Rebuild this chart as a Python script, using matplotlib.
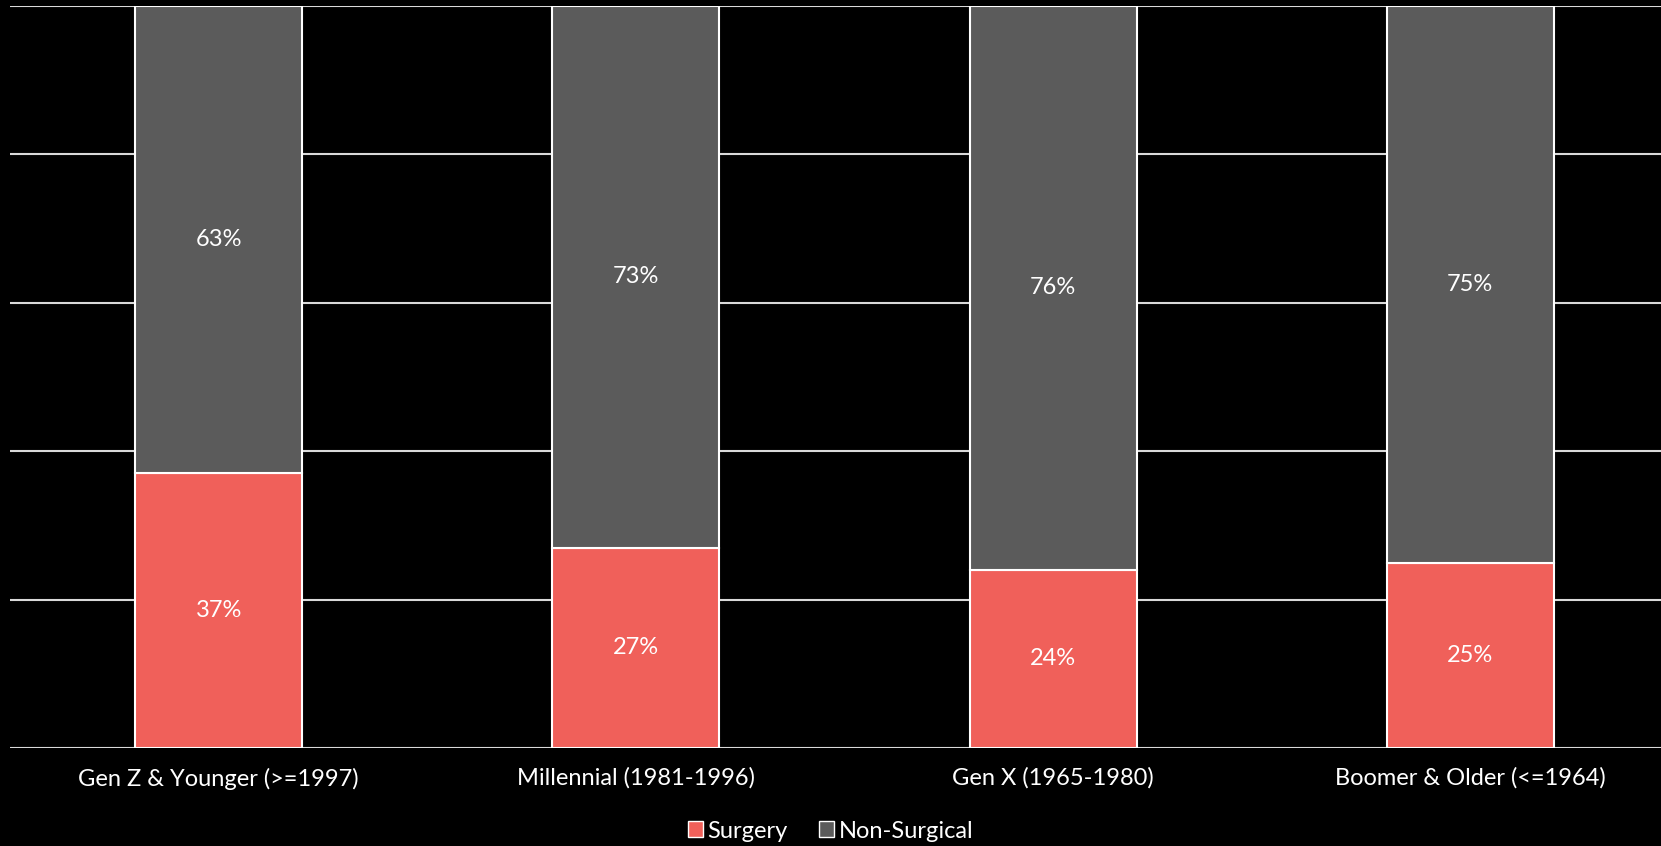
import matplotlib
matplotlib.use("Agg")
import matplotlib.pyplot as plt
from matplotlib.patches import Patch

plt.rcParams["font.family"] = ["Lato", "DejaVu Sans"]

categories = ["Gen Z & Younger (>=1997)", "Millennial (1981-1996)", "Gen X (1965-1980)", "Boomer & Older (<=1964)"]
surgery = [37, 27, 24, 25]
non_surgical = [63, 73, 76, 75]

RED = "#f0605a"
GRAY = "#5b5b5b"
FS = 17

fig = plt.figure(figsize=(16.61, 8.46), dpi=100, facecolor="black")
ax = fig.add_axes([10 / 1661, 1 - 748 / 846, 1651 / 1661, 742 / 846])
ax.set_facecolor("black")

x = list(range(len(categories)))
width = 0.40
ax.bar(x, surgery, width, color=RED, edgecolor="white", linewidth=1.5, zorder=3)
ax.bar(x, non_surgical, width, bottom=surgery, color=GRAY, edgecolor="white", linewidth=1.5, zorder=3)

for i in x:
    ax.text(i, surgery[i] / 2, "{0}%".format(surgery[i]), ha="center", va="center",
            color="white", fontsize=FS, zorder=4)
    ax.text(i, surgery[i] + non_surgical[i] / 2, "{0}%".format(non_surgical[i]), ha="center", va="center",
            color="white", fontsize=FS, zorder=4)

ax.set_xlim(-0.5, 3.457)
ax.set_ylim(0, 100)
ax.set_yticks([0, 20, 40, 60, 80, 100])
ax.yaxis.grid(True, color="#d9d9d9", linewidth=1.5, zorder=0)
ax.tick_params(axis="y", left=False, labelleft=False)
ax.set_xticks(x)
ax.set_xticklabels(categories, color="white", fontsize=FS)
ax.tick_params(axis="x", length=0, pad=14)
for side in ["top", "right", "left", "bottom"]:
    ax.spines[side].set_visible(False)

handles = [Patch(facecolor=RED, edgecolor="white", label="Surgery"),
           Patch(facecolor=GRAY, edgecolor="white", label="Non-Surgical")]
leg = fig.legend(handles=handles, loc="center", bbox_to_anchor=(0.5, 1 - 831 / 846), ncol=2,
                 frameon=False, fontsize=FS, handlelength=0.65, handleheight=0.65,
                 handletextpad=0.2, columnspacing=1.3)
for t in leg.get_texts():
    t.set_color("white")

fig.savefig("out.png", facecolor="black")
